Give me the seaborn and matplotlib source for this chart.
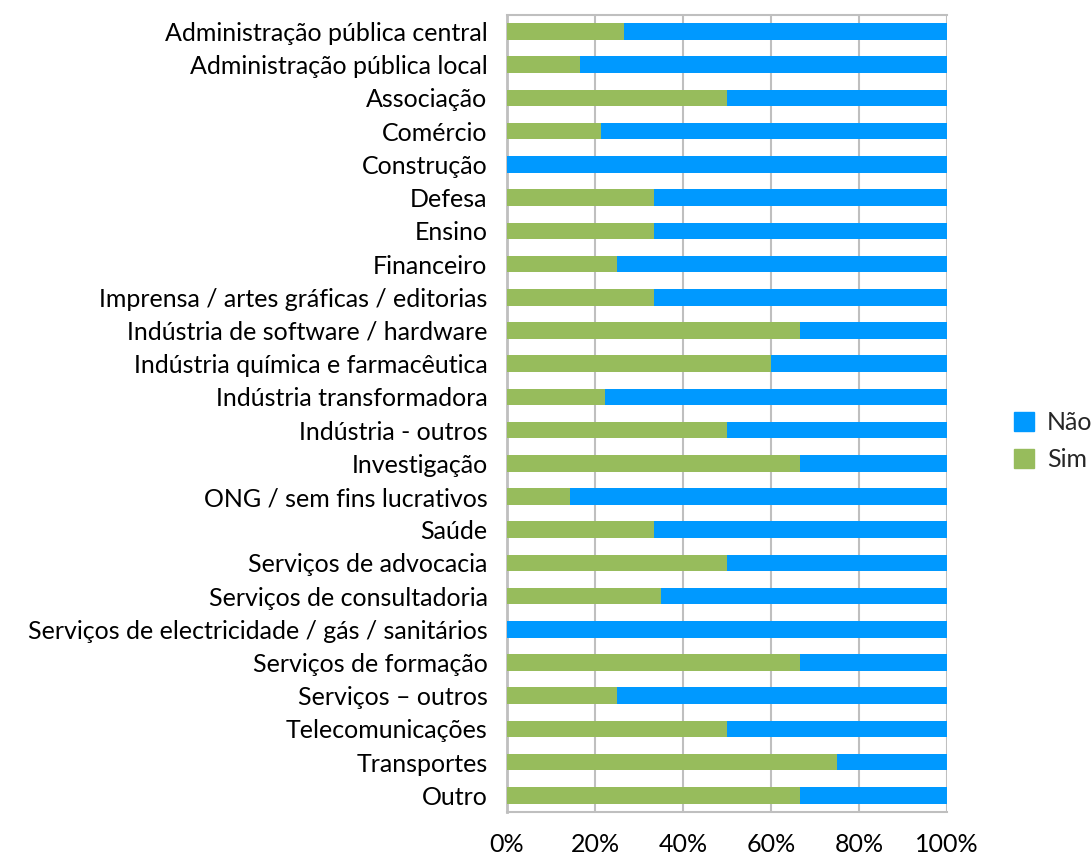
import numpy as np
import pandas as pd
import seaborn as sns
import matplotlib.pyplot as plt
from matplotlib.patches import Patch

# sectores e percentagem de "Sim" (o resto e "Não")
sectores = [
    "Administração pública central",
    "Administração pública local",
    "Associação",
    "Comércio",
    "Construção",
    "Defesa",
    "Ensino",
    "Financeiro",
    "Imprensa / artes gráficas / editorias",
    "Indústria de software / hardware",
    "Indústria química e farmacêutica",
    "Indústria transformadora",
    "Indústria - outros",
    "Investigação",
    "ONG / sem fins lucrativos",
    "Saúde",
    "Serviços de advocacia",
    "Serviços de consultadoria",
    "Serviços de electricidade / gás / sanitários",
    "Serviços de formação",
    "Serviços – outros",
    "Telecomunicações",
    "Transportes",
    "Outro",
]
sim = [26.7, 16.7, 50.0, 21.4, 0.0, 33.3, 33.3, 25.0, 33.3, 66.7, 60.0, 22.2,
       50.0, 66.7, 14.3, 33.3, 50.0, 35.0, 0.0, 66.7, 25.0, 50.0, 75.0, 66.7]
nao = [100 - v for v in sim]

verde = "#97BC5C"
azul = "#0099FF"
cinza = "#BFBFBF"

df = pd.DataFrame({"sector": sectores, "Sim": sim, "Não": nao})
df["total"] = df["Sim"] + df["Não"]

sns.set_style("white")
plt.rcParams["font.family"] = ["Lato", "DejaVu Sans"]

fig = plt.figure(figsize=(10.92, 8.55), dpi=100)
ax = fig.add_axes([0.4643, 0.0503, 0.8672 - 0.4643, 0.9825 - 0.0503])

# barra total (Não por tras) e depois Sim por cima
sns.barplot(data=df, x="total", y="sector", color=azul, width=0.5,
            saturation=1, orient="h", ax=ax, zorder=3, linewidth=0)
sns.barplot(data=df, x="Sim", y="sector", color=verde, width=0.5,
            saturation=1, orient="h", ax=ax, zorder=4, linewidth=0)

ax.set_xlim(0, 100)
ax.set_ylim(len(sectores) - 0.5, -0.5)
ax.set_xticks(np.arange(0, 101, 20))
ax.set_xticklabels([f"{v}%" for v in range(0, 101, 20)])
ax.set_xlabel("")
ax.set_ylabel("")

ax.grid(axis="x", color=cinza, linewidth=1.5, zorder=0)
ax.grid(axis="y", visible=False)
ax.set_axisbelow(True)

ax.spines["right"].set_visible(False)
ax.spines["top"].set_color(cinza)
ax.spines["top"].set_linewidth(1.5)
ax.spines["left"].set_color(cinza)
ax.spines["left"].set_linewidth(2)
ax.spines["bottom"].set_color(cinza)
ax.spines["bottom"].set_linewidth(1.5)

ax.set_yticks(np.arange(-0.5, len(sectores), 1), minor=True)
ax.tick_params(axis="y", which="major", length=0, pad=14, labelsize=18,
               labelcolor="black")
ax.tick_params(axis="y", which="minor", length=9, width=1.5, color=cinza)
ax.tick_params(axis="x", which="major", length=8, width=1.5, color=cinza,
               pad=7, labelsize=18, labelcolor="black")

handles = [Patch(color=azul, label="Não"), Patch(color=verde, label="Sim")]
fig.legend(handles=handles, loc="center left", bbox_to_anchor=(0.929, 0.484),
           frameon=False, fontsize=18, handlelength=0.8, handleheight=0.8,
           handletextpad=0.5, labelspacing=0.55, borderpad=0,
           borderaxespad=0)

fig.savefig("out.png", dpi=100)
